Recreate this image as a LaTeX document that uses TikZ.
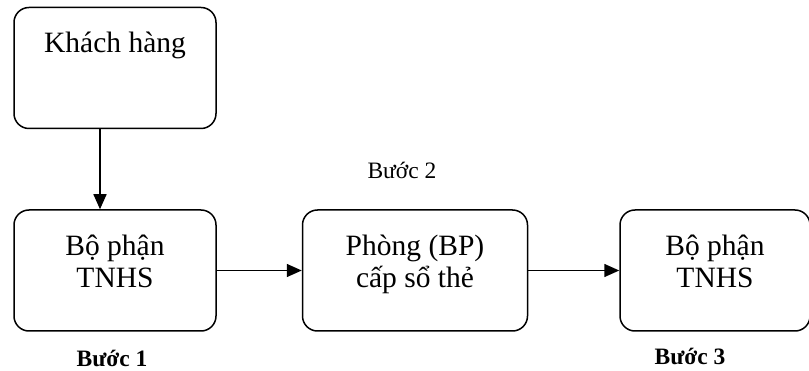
\documentclass[tikz,border=0pt]{standalone}
\usepackage{fontspec}
\setmainfont{Liberation Serif}
\usetikzlibrary{positioning,arrows.meta}

\tikzset{
  stepbox/.style={draw, line width=1.5pt, rounded corners=15pt,
    minimum width=202pt, minimum height=121pt, align=center,
    font=\fontsize{29.5}{32}\selectfont},
  raised/.style={text height=52pt, text depth=17pt},
  steplabel/.style={inner sep=1pt, font=\fontsize{23.5}{26}\selectfont},
  flow/.style={-{Triangle[length=15pt,width=13pt]}, line width=1.5pt},
}

\begin{document}
\begin{tikzpicture}[x=1pt,y=-1pt]
  \useasboundingbox (0,0) rectangle (809,371);

  \node[stepbox, text height=20pt, text depth=51pt] (khach) at (115,68) {Khách hàng};
  \node[stepbox, raised, below=80pt of khach] (bp1) {Bộ phận\\TNHS};
  \node[stepbox, raised, minimum width=225pt, right=85pt of bp1] (cap) {Phòng (BP)\\cấp sổ thẻ};
  \node[stepbox, raised, minimum width=190pt, right=91pt of cap] (bp3) {Bộ phận\\TNHS};

  \node[steplabel, font=\bfseries\fontsize{23.5}{26}\selectfont] (buoc1) at (112,358) {Bước 1};
  \node[steplabel] (buoc2) at (402,170) {Bước 2};
  \node[steplabel, font=\bfseries\fontsize{23.5}{26}\selectfont] (buoc3) at (690,356) {Bước 3};

  \draw[flow] ([xshift=-15pt]khach.south) -- ([xshift=-15pt]bp1.north);
  \draw[flow] (bp1.east) -- (cap.west);
  \draw[flow] (cap.east) -- (bp3.west);
\end{tikzpicture}
\end{document}
